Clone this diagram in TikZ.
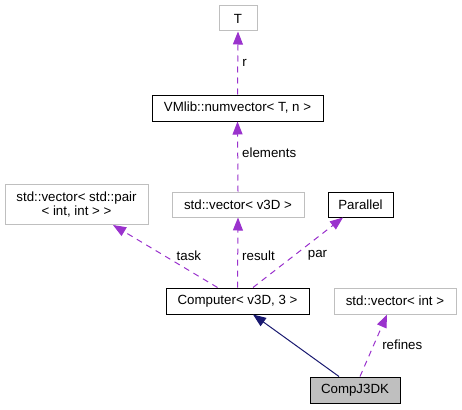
\documentclass[tikz,border=0pt]{standalone}
\usepackage{fontspec}
\setmainfont{Liberation Sans}
\usetikzlibrary{arrows.meta}
\definecolor{usecol}{HTML}{9A32CD}
\definecolor{inhcol}{HTML}{191970}
\definecolor{boxgray}{HTML}{BFBFBF}
\begin{document}
\begin{tikzpicture}[x=1pt,y=-1pt,
		font=\fontsize{13.3}{14}\selectfont,
		cls/.style={draw=black,line width=1pt,inner sep=0pt,align=center},
		ext/.style={cls,draw=boxgray},
		usage/.style={usecol,line width=1pt,dash pattern=on 6pt off 5pt,-{Triangle[length=13pt,width=10pt]}},
		inherit/.style={inhcol,line width=1pt,-{Triangle[length=13pt,width=10pt]}},
		lbl/.style={black,right,inner sep=4pt}]
		\useasboundingbox (0,0) rectangle (462,409);
		\node[ext,minimum width=38pt,minimum height=25pt] (T) at (238,18.5) {T};
		\node[cls,minimum width=171pt,minimum height=26pt] (numvec) at (237.5,108) {VMlib::numvector< T, n >};
		\node[ext,minimum width=143pt,minimum height=40pt] (pairvec) at (76.5,204.5) {std::vector< std::pair\\< int, int > >};
		\node[ext,minimum width=132pt,minimum height=25pt] (v3dvec) at (238,204.5) {std::vector< v3D >};
		\node[cls,minimum width=65pt,minimum height=25pt] (par) at (360.5,204.5) {Parallel};
		\node[cls,minimum width=143pt,minimum height=26pt] (comp) at (237.5,301) {Computer< v3D, 3 >};
		\node[ext,minimum width=122pt,minimum height=26pt] (intvec) at (395,301) {std::vector< int >};
		\node[cls,fill=boxgray,minimum width=90pt,minimum height=26pt] (cj) at (355,390) {CompJ3DK};
		\draw[usage] (numvec.north) -- (T.south) node[lbl,pos=0.5] {r};
		\draw[usage] (v3dvec.north) -- (numvec.south) node[lbl,pos=0.55] {elements};
		\draw[usage] ([xshift=-20pt]comp.north) -- ([xshift=36.5pt]pairvec.south) node[lbl,pos=0.51,xshift=8pt] {task};
		\draw[usage] (comp.north) -- (v3dvec.south) node[lbl,pos=0.45] {result};
		\draw[usage] ([xshift=15.5pt]comp.north) -- ([xshift=-17.5pt]par.south) node[lbl,pos=0.46,xshift=9pt] {par};
		\draw[inherit] ([xshift=-16pt]cj.north) -- ([xshift=15.5pt]comp.south);
		\draw[usage] ([xshift=5pt]cj.north) -- ([xshift=-8pt]intvec.south) node[lbl,pos=0.51,xshift=4pt] {refines};
	\end{tikzpicture}
\end{document}
